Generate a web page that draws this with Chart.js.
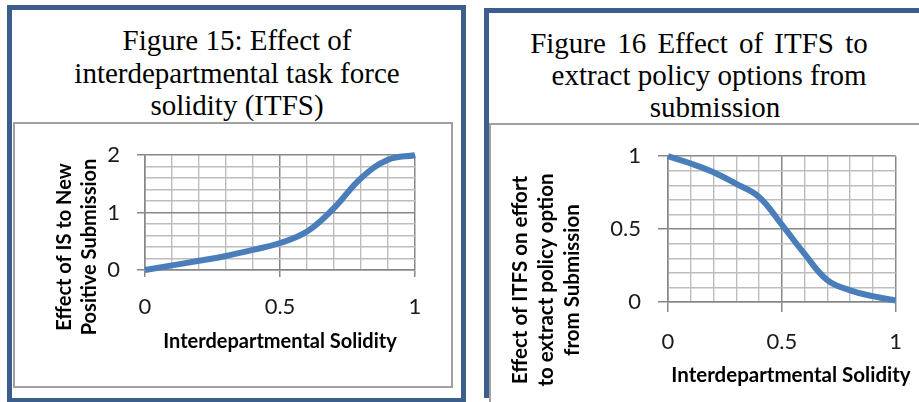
<!DOCTYPE html>
<html>
<head>
<meta charset="utf-8">
<script src="https://cdn.jsdelivr.net/npm/chart.js@4/dist/chart.umd.min.js"></script>
<style>
  html, body { margin: 0; padding: 0; background: #fff; }
  body { width: 919px; height: 402px; overflow: hidden; position: relative; }
  .panel { position: absolute; box-sizing: border-box; border: 5px solid #3b5e8c; }
  .inner { position: absolute; box-sizing: border-box; border: 2px solid #a0a0a0; }
  .ftitle { position: absolute; text-align: center; font-family: "Liberation Serif", "Times New Roman", serif;
            font-size: 29px; line-height: 32.5px; color: #000; white-space: nowrap; width: 400px; }
  canvas { position: absolute; }
</style>
</head>
<body>
<div class="panel" style="left:7px;top:5px;width:459px;height:398px;"></div>
<div class="inner" style="left:13px;top:122px;width:440px;height:266px;"></div>
<div class="ftitle" style="left:37px;top:24px;">Figure 15: Effect of</div>
<div class="ftitle" style="left:37px;top:56.5px;">interdepartmental task force</div>
<div class="ftitle" style="left:37px;top:89px;">solidity (ITFS)</div>
<canvas id="c1" width="434" height="260" style="left:16px;top:125px;"></canvas>

<div class="panel" style="left:484px;top:8px;width:470px;height:390px;border-bottom:0;"></div>
<div class="inner" style="left:489px;top:123px;width:470px;height:300px;"></div>
<div class="ftitle" style="left:499px;top:27px;word-spacing:4px;">Figure 16 Effect of ITFS to</div>
<div class="ftitle" style="left:509px;top:59px;">extract policy options from</div>
<div class="ftitle" style="left:515px;top:91px;">submission</div>
<canvas id="c2" width="427" height="276" style="left:492px;top:126px;"></canvas>

<script>
// ---- data ----
const solidity = [0, 0.1, 0.2, 0.3, 0.4, 0.5, 0.6, 0.7, 0.8, 0.9, 1.0];
const effectIS = [0, 0.08, 0.16, 0.245, 0.35, 0.47, 0.67, 1.08, 1.6, 1.92, 2.0];
const effectITFS = [1.0, 0.95, 0.89, 0.81, 0.72, 0.53, 0.33, 0.15, 0.08, 0.04, 0.01];
const xTickLabels = ["0", "0.5", "1"];
const yTickLabels1 = ["0", "1", "2"];
const yTickLabels2 = ["0", "0.5", "1"];
const xTitle = "Interdepartmental Solidity";
const yTitle1 = ["Effect of IS to New", "Positive Submission"];
const yTitle2 = ["Effect of ITFS on effort", "to extract policy option", "from Submission"];

const LINE = '#4a7ebb';
const MAJOR = '#878787';
const MINOR = '#bdbdbd';
const TICKFONT = { family: 'Lato', size: 22 };
const TITLEFONT = { family: 'Lato', size: 20, weight: 'bold' };

function fmt(v) { return String(Math.round(v * 10) / 10); }
function inList(list, v) { return list.indexOf(fmt(v)) >= 0; }

// draws the axis titles at the positions the original layout uses
const axisTitlePlugin = {
  id: 'axisTitles',
  afterDraw(chart, args, opts) {
    if (!opts || !opts.yLines) return;
    const ctx = chart.ctx;
    ctx.save();
    ctx.font = 'bold ' + opts.size + 'px Lato';
    ctx.fillStyle = '#000';
    ctx.textAlign = 'center';
    ctx.textBaseline = 'middle';
    ctx.fillText(opts.xText, opts.xPos[0], opts.xPos[1]);
    opts.yLines.forEach((t, i) => {
      ctx.save();
      ctx.translate(opts.yXs[i], opts.yY);
      ctx.rotate(-Math.PI / 2);
      ctx.fillText(t, 0, 0);
      ctx.restore();
    });
    ctx.restore();
  }
};

function makeChart(id, yVals, yMax, yStep, yLabels, cfg) {
  const ctx = document.getElementById(id).getContext('2d');
  return new Chart(ctx, {
    type: 'line',
    data: {
      datasets: [{
        data: solidity.map((x, i) => ({ x: x, y: yVals[i] })),
        borderColor: LINE,
        borderWidth: 6,
        pointRadius: 0,
        tension: 0.4,
        fill: false,
        clip: 6
      }]
    },
    plugins: [axisTitlePlugin],
    options: {
      responsive: false,
      animation: false,
      devicePixelRatio: 1,
      layout: { padding: { left: 0, top: cfg.padTop, right: cfg.padRight, bottom: 0 } },
      plugins: {
        legend: { display: false },
        tooltip: { enabled: false },
        axisTitles: { size: cfg.titleSize, xText: xTitle, xPos: cfg.xTitlePos,
                      yLines: cfg.yTitle, yXs: cfg.yTitleXs, yY: cfg.yTitleY }
      },
      scales: {
        x: {
          type: 'linear', min: 0, max: 1,
          afterFit: s => { s.height = cfg.xAxisH; },
          ticks: {
            stepSize: 0.1, color: '#1a1a1a', font: TICKFONT, padding: cfg.xTickPad,
            maxRotation: 0, autoSkip: false,
            callback: v => inList(xTickLabels, v) ? fmt(v) : ''
          },
          grid: {
            color: c => inList(xTickLabels, c.tick.value) ? MAJOR : MINOR,
            lineWidth: c => inList(xTickLabels, c.tick.value) ? 1.5 : 1.4,
            tickColor: c => inList(xTickLabels, c.tick.value) ? MAJOR : 'rgba(0,0,0,0)',
            tickLength: cfg.xTickLen
          },
          border: { color: MAJOR, width: 1.5 },
          title: { display: false }
        },
        y: {
          type: 'linear', min: 0, max: yMax,
          afterFit: s => { s.width = cfg.yAxisW; },
          ticks: {
            stepSize: yStep, color: '#1a1a1a', font: TICKFONT, padding: cfg.yTickPad, autoSkip: false,
            callback: v => inList(yLabels, v) ? fmt(v) : ''
          },
          grid: {
            color: c => inList(yLabels, c.tick.value) ? MAJOR : MINOR,
            lineWidth: c => inList(yLabels, c.tick.value) ? 1.5 : 1.4,
            tickColor: c => inList(yLabels, c.tick.value) ? MAJOR : 'rgba(0,0,0,0)',
            tickLength: cfg.yTickLen
          },
          border: { color: MAJOR, width: 1.5 }
        }
      }
    }
  });
}

function draw() {
  makeChart('c1', effectIS, 2, 0.2, yTickLabels1, {
    padTop: 24, padRight: 35, xAxisH: 115, yAxisW: 129,
    xTickPad: 17, xTickLen: 7, yTickPad: 17, yTickLen: 8,
    titleSize: 20, xTitlePos: [264, 217],
    yTitle: yTitle1, yTitleXs: [49, 74], yTitleY: 122
  });
  makeChart('c2', effectITFS, 1, 0.1, yTickLabels2, {
    padTop: 24, padRight: 17, xAxisH: 100, yAxisW: 176,
    xTickPad: 17, xTickLen: 10, yTickPad: 17, yTickLen: 10,
    titleSize: 20.5, xTitlePos: [299, 249],
    yTitle: yTitle2, yTitleXs: [28, 54, 80], yTitleY: 154
  });
}

Promise.all([
  document.fonts.load('22px Lato'),
  document.fonts.load('bold 20px Lato'),
  document.fonts.load('29px "Liberation Serif"')
]).then(draw, draw);
</script>
</body>
</html>
